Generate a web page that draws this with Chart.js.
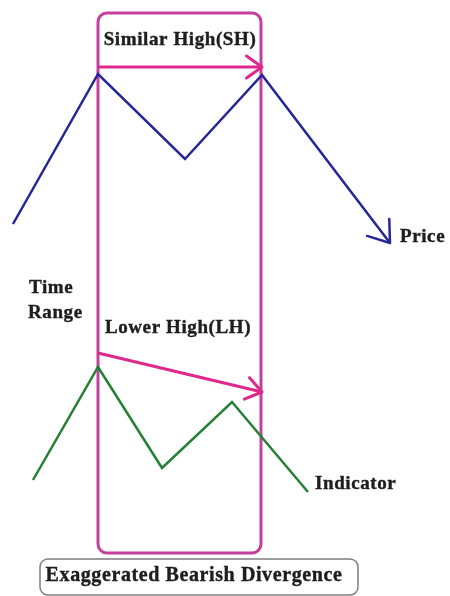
<!DOCTYPE html>
<html>
<head>
<meta charset="utf-8">
<script src="https://cdn.jsdelivr.net/npm/chart.js@4.4.0/dist/chart.umd.min.js"></script>
<style>
  html, body { margin: 0; padding: 0; background: #fff; }
  canvas { display: block; }
</style>
</head>
<body>
<canvas id="myChart" width="450" height="596"></canvas>
<script>
// diagram units: x = time, y = level (drawn top-down)
const priceX = [13, 98, 185, 262, 390];
const priceY = [224, 74, 159, 75, 243];
const indicatorX = [33, 98, 162, 232, 308];
const indicatorY = [480, 367, 468, 402, 492];
const shX = [98, 262];
const shY = [67, 67];
const lhX = [98, 262];
const lhY = [353, 392];
const rangeX = [98, 261];
const rangeY = [13, 553];
const captionBoxX = [40, 358];
const captionBoxY = [559, 595];

const labels = ['Similar High(SH)', 'Price', 'Time', 'Range', 'Lower High(LH)', 'Indicator', 'Exaggerated Bearish Divergence'];
const labelX = [180, 400, 29, 28, 178, 315, 194];
const labelY = [40, 237, 288, 313, 328, 484, 576];

const toPoints = (xs, ys) => xs.map((x, i) => ({x: x, y: ys[i]}));

const blue = 'rgb(38, 38, 150)';
const pink = 'rgb(222, 40, 140)';
const boxPink = 'rgb(196, 64, 156)';
const green = 'rgb(36, 128, 52)';

function line(data, color, width, arrow) {
  return {
    data: data,
    showLine: true,
    borderColor: color,
    backgroundColor: color,
    borderWidth: width,
    pointRadius: 0,
    tension: 0,
    clip: false,
    arrow: arrow
  };
}

const decorations = {
  id: 'decorations',
  beforeDatasetsDraw(chart) {
    const ctx = chart.ctx;
    const sx = chart.scales.x, sy = chart.scales.y;
    ctx.save();
    // time range box
    let x0 = sx.getPixelForValue(rangeX[0]), x1 = sx.getPixelForValue(rangeX[1]);
    let y0 = sy.getPixelForValue(rangeY[0]), y1 = sy.getPixelForValue(rangeY[1]);
    ctx.strokeStyle = boxPink;
    ctx.lineWidth = 3;
    ctx.beginPath();
    ctx.roundRect(x0, y0, x1 - x0, y1 - y0, 9);
    ctx.stroke();
    // caption box
    x0 = sx.getPixelForValue(captionBoxX[0]); x1 = sx.getPixelForValue(captionBoxX[1]);
    y0 = sy.getPixelForValue(captionBoxY[0]); y1 = sy.getPixelForValue(captionBoxY[1]);
    ctx.strokeStyle = 'rgb(125, 125, 125)';
    ctx.lineWidth = 1.5;
    ctx.beginPath();
    ctx.roundRect(x0, y0, x1 - x0, y1 - y0, 8);
    ctx.stroke();
    ctx.restore();
  },
  afterDatasetsDraw(chart) {
    const ctx = chart.ctx;
    const sx = chart.scales.x, sy = chart.scales.y;
    ctx.save();
    chart.data.datasets.forEach((ds, i) => {
      if (!ds.arrow) return;
      const pts = chart.getDatasetMeta(i).data;
      const a = pts[pts.length - 2], b = pts[pts.length - 1];
      const ang = Math.atan2(b.y - a.y, b.x - a.x);
      ctx.strokeStyle = ds.borderColor;
      ctx.lineWidth = ds.borderWidth;
      ctx.lineCap = 'round';
      ctx.beginPath();
      [-1, 1].forEach(s => {
        ctx.moveTo(b.x, b.y);
        ctx.lineTo(b.x - ds.arrow * Math.cos(ang + s * 0.62), b.y - ds.arrow * Math.sin(ang + s * 0.62));
      });
      ctx.stroke();
    });
    // texts
    ctx.fillStyle = '#1e1e1e';
    ctx.strokeStyle = '#1e1e1e';
    ctx.lineWidth = 0.4;
    ctx.textBaseline = 'middle';
    labels.forEach((t, i) => {
      let align = 'left';
      let size = 19;
      ctx.letterSpacing = '0.6px';
      if (i === 0 || i === 4) align = 'center';
      if (i === 6) { align = 'center'; size = 20; }
      ctx.textAlign = align;
      ctx.font = 'bold ' + size + 'px "Liberation Serif", "DejaVu Serif", serif';
      const px = sx.getPixelForValue(labelX[i]), py = sy.getPixelForValue(labelY[i]);
      ctx.fillText(t, px, py);
      ctx.strokeText(t, px, py);
    });
    ctx.restore();
  }
};

const config = {
  type: 'scatter',
  data: {
    datasets: [
      line(toPoints(priceX, priceY), blue, 2.5, 24),
      line(toPoints(shX, shY), pink, 3, 19),
      line(toPoints(lhX, lhY), pink, 3, 19),
      line(toPoints(indicatorX, indicatorY), green, 2.5, 0)
    ]
  },
  options: {
    responsive: false,
    animation: false,
    layout: { padding: 0 },
    scales: {
      x: { type: 'linear', min: 0, max: 450, display: false },
      y: { type: 'linear', min: 0, max: 596, reverse: true, display: false }
    },
    plugins: { legend: { display: false }, tooltip: { enabled: false } }
  },
  plugins: [decorations]
};

const myChart = new Chart(document.getElementById('myChart'), config);
</script>
</body>
</html>
